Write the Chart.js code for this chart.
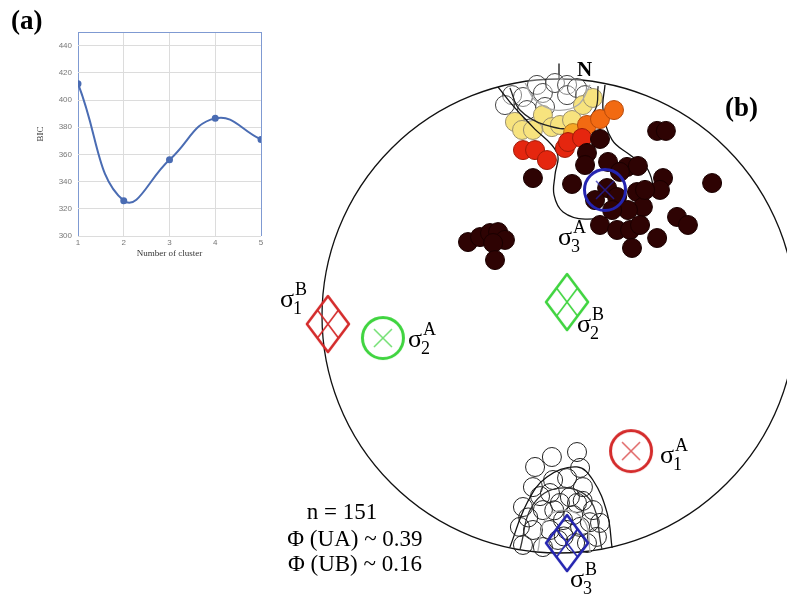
<!DOCTYPE html>
<html>
<head>
<meta charset="utf-8">
<script src="https://cdn.jsdelivr.net/npm/chart.js@4.4.1/dist/chart.umd.min.js"></script>
<style>
  html, body { margin: 0; padding: 0; background: #fff; }
  #wrap { position: relative; width: 787px; height: 596px; overflow: hidden; }
  #boxA { position: absolute; left: 0; top: 0; width: 270px; height: 262px; }
  #boxB { position: absolute; left: 262px; top: 0; width: 525px; height: 596px; }
</style>
</head>
<body>
<div id="wrap">
  <div id="boxB"><canvas id="graficoB"></canvas></div>
  <div id="boxA"><canvas id="graficoA"></canvas></div>
</div>
<script>
// ==== (a) BIC vs number of clusters ====
const clusters = [1, 2, 3, 4, 5];
const bicValues = [412, 326, 356, 386.5, 371];
const bicTicks = [300, 320, 340, 360, 380, 400, 420, 440];

// ==== (b) stereonet poles, unit circle coords (x = east, y = north) ====
const darkPoles = [
  [0.414, 0.781], [0.451, 0.781], [0.173, 0.747], [0.118, 0.688], [0.110, 0.637],
  [0.207, 0.650], [0.287, 0.629], [0.333, 0.633], [-0.110, 0.582], [0.055, 0.557],
  [0.203, 0.540], [0.245, 0.502], [0.329, 0.523], [0.439, 0.582], [0.426, 0.532],
  [0.646, 0.561], [0.354, 0.460], [0.291, 0.447], [0.173, 0.384], [0.245, 0.363],
  [0.300, 0.363], [0.308, 0.287], [0.414, 0.329], [0.498, 0.418], [0.544, 0.384],
  [-0.384, 0.312], [-0.333, 0.333], [-0.291, 0.350], [-0.257, 0.354], [-0.228, 0.321],
  [-0.278, 0.308], [-0.270, 0.236], [0.363, 0.532], [0.224, 0.447], [0.342, 0.384],
  [0.257, 0.608], [0.152, 0.489]
];
const redPoles = [[-0.152, 0.700], [-0.101, 0.700], [-0.051, 0.658], [0.025, 0.709], [0.038, 0.734], [0.097, 0.751]];
const orangePoles = [[0.118, 0.806], [0.173, 0.831], [0.232, 0.869]];
const amberPoles = [[0.059, 0.772]];
const yellowPoles = [
  [-0.186, 0.819], [-0.156, 0.785], [-0.110, 0.785], [-0.068, 0.848], [-0.030, 0.797],
  [0.004, 0.806], [0.055, 0.827], [0.101, 0.890], [0.143, 0.920]
];
const openPolesN = [
  [-0.198, 0.932], [-0.152, 0.924], [-0.093, 0.975], [-0.068, 0.941], [-0.017, 0.983],
  [0.034, 0.975], [0.034, 0.932], [0.076, 0.962], [-0.135, 0.869], [-0.228, 0.890],
  [-0.059, 0.882], [0.110, 0.932]
];
const openPolesS = [
  [-0.101, -0.637], [-0.030, -0.595], [0.076, -0.574], [-0.110, -0.722], [-0.025, -0.692],
  [0.034, -0.684], [0.089, -0.641], [0.101, -0.722], [-0.152, -0.806], [-0.068, -0.819],
  [0.004, -0.789], [0.076, -0.789], [0.143, -0.819], [0.173, -0.873], [-0.165, -0.890],
  [-0.110, -0.903], [-0.038, -0.903], [0.034, -0.903], [0.089, -0.890], [0.160, -0.932],
  [-0.152, -0.966], [-0.068, -0.975], [-0.004, -0.945], [0.068, -0.958], [0.118, -0.958],
  [0.017, -0.861], [0.046, -0.764], [-0.038, -0.747], [-0.130, -0.850], [0.060, -0.840],
  [0.130, -0.870], [-0.020, -0.820], [0.100, -0.780], [-0.080, -0.760], [0.020, -0.930]
];

// density contours
const contourNOuter = [
  [-0.257, 0.966], [-0.186, 0.878], [-0.110, 0.797], [-0.008, 0.688], [-0.017, 0.595],
  [-0.021, 0.511], [0.017, 0.439], [0.110, 0.409], [0.257, 0.435], [0.384, 0.511],
  [0.376, 0.616], [0.300, 0.679], [0.224, 0.743], [0.186, 0.869], [0.194, 0.975]
];
const contourNMid = [[-0.207, 0.962], [-0.165, 0.869], [-0.059, 0.806], [0.068, 0.797], [0.152, 0.869], [0.165, 0.970]];
const contourNInner = [[-0.143, 0.983], [-0.101, 0.911], [-0.017, 0.869], [0.080, 0.890], [0.131, 0.975]];
const contourSOuter = [[-0.207, -0.975], [-0.135, -0.789], [-0.051, -0.679], [0.076, -0.637], [0.143, -0.692], [0.203, -0.831], [0.224, -0.979]];
const contourSMid = [[-0.165, -0.987], [-0.110, -0.797], [0.004, -0.726], [0.131, -0.776], [0.181, -0.983]];
const contourSInner = [[-0.089, -0.992], [-0.059, -0.861], [0.025, -0.819], [0.110, -0.869], [0.131, -0.996]];

// principal stress axes (A = circles, B = diamonds)
const sigmaA = [[0.304, -0.570], [-0.743, -0.093], [0.194, 0.532]];   // sigma1, sigma2, sigma3
const sigmaB = [[-0.975, -0.034], [0.034, 0.059], [0.034, -0.958]];
const sigmaColors = ['#d42b2b', '#3fd43f', '#2424b0'];

// label anchors (left of sigma glyph, on its baseline)
const sigmaLabels = [
  { sub: '1', sup: 'A', at: [0.426, -0.620] },
  { sub: '2', sup: 'A', at: [-0.637, -0.131] },
  { sub: '3', sup: 'A', at: [-0.004, 0.300] },
  { sub: '1', sup: 'B', at: [-1.177, 0.038] },
  { sub: '2', sup: 'B', at: [0.076, -0.068] },
  { sub: '3', sup: 'B', at: [0.046, -1.143] }
];
const statLines = ['n = 151', 'Φ (UA) ~ 0.39', 'Φ (UB) ~ 0.16'];
const statAt = [[-0.916, -0.857], [-0.861, -0.970], [-0.861, -1.076]];

const SERIF = '"Liberation Serif", "DejaVu Serif", serif';

// ---------------------------------------------------------------
// Panel (a)
// ---------------------------------------------------------------
const AZUL = '#4a6cb3';
new Chart(document.getElementById('graficoA'), {
  type: 'line',
  data: {
    datasets: [{
      data: clusters.map((c, i) => ({ x: c, y: bicValues[i] })),
      borderColor: AZUL,
      backgroundColor: AZUL,
      borderWidth: 2,
      pointRadius: 2.5,
      tension: 0.45
    }]
  },
  options: {
    responsive: true,
    maintainAspectRatio: false,
    animation: false,
    layout: { autoPadding: false, padding: { left: 30, right: 9, top: 32, bottom: 0 } },
    plugins: { legend: { display: false }, tooltip: { enabled: false } },
    scales: {
      x: {
        type: 'linear', min: 1, max: 5,
        afterBuildTicks: s => { s.ticks = clusters.map(v => ({ value: v })); },
        afterFit: s => { s.height = 26; },
        ticks: { color: '#777', font: { size: 8 }, padding: 2 },
        grid: { color: c => (c.tick && (c.tick.value === 5 || c.tick.value === 1)) ? '#7f9ad2' : '#dcdcdc', drawTicks: false },
        border: { display: false },
        title: { display: true, text: 'Number of cluster', color: '#333', font: { family: SERIF, size: 9 }, padding: { top: 0, bottom: 3 } }
      },
      y: {
        min: 300, max: 450,
        afterBuildTicks: s => { s.ticks = bicTicks.concat([450]).map(v => ({ value: v })); },
        afterFit: s => { s.width = 48; },
        ticks: { color: '#777', font: { size: 8 }, padding: 6, callback: v => (v === 450 ? '' : v) },
        grid: { color: c => (c.tick && c.tick.value === 450) ? '#7f9ad2' : '#dcdcdc', drawTicks: false },
        border: { display: false },
        title: { display: true, text: 'BIC', color: '#333', font: { family: SERIF, size: 9 }, padding: 5 }
      }
    }
  },
  plugins: [{
    id: 'etiquetaA',
    afterDraw(chart) {
      const ctx = chart.ctx;
      ctx.save();
      ctx.fillStyle = '#000';
      ctx.font = 'bold 27px ' + SERIF;
      ctx.textBaseline = 'alphabetic';
      ctx.fillText('(a)', 11, 29);
      ctx.restore();
    }
  }]
});

// ---------------------------------------------------------------
// Panel (b) - stereonet
// ---------------------------------------------------------------
// marker icons drawn once, placed by Chart.js as pointStyle images
function iconoCirculo(color) {
  const c = document.createElement('canvas');
  c.width = 50; c.height = 50;
  const g = c.getContext('2d');
  g.strokeStyle = color;
  g.lineWidth = 3;
  g.beginPath(); g.arc(25, 25, 20.5, 0, Math.PI * 2); g.stroke();
  g.globalAlpha = 0.75;
  g.lineWidth = 1.5;
  g.beginPath();
  g.moveTo(16, 16); g.lineTo(34, 34);
  g.moveTo(34, 16); g.lineTo(16, 34);
  g.stroke();
  return c;
}
function iconoRombo(color) {
  const c = document.createElement('canvas');
  c.width = 48; c.height = 62;
  const g = c.getContext('2d');
  g.strokeStyle = color;
  g.lineJoin = 'round';
  g.lineWidth = 2.6;
  g.beginPath();
  g.moveTo(24, 3); g.lineTo(45, 31); g.lineTo(24, 59); g.lineTo(3, 31); g.closePath();
  g.stroke();
  g.lineWidth = 1.6;
  g.beginPath();
  g.moveTo(13.5, 17); g.lineTo(34.5, 45);
  g.moveTo(34.5, 17); g.lineTo(13.5, 45);
  g.stroke();
  return c;
}

const pts = arr => arr.map(p => ({ x: p[0], y: p[1] }));

function poleSet(arr, fill, edge, order) {
  return {
    data: pts(arr), order: order,
    pointRadius: 9.5, pointBackgroundColor: fill, pointBorderColor: edge, pointBorderWidth: 1,
    showLine: false, clip: false
  };
}
function contourSet(arr, color, order) {
  return {
    data: pts(arr), order: order, showLine: true, tension: 0.4,
    borderColor: color, borderWidth: 1.3, pointRadius: 0, fill: false, clip: false
  };
}

// view: canvas pixel of net centre and radius
const NET = { cx: 297, cy: 316, r: 237, w: 525, h: 596 };

const sigmaDatasets = [];
sigmaA.forEach((p, i) => sigmaDatasets.push({
  data: pts([p]), order: 0, pointStyle: iconoCirculo(sigmaColors[i]), pointRadius: 20, clip: false
}));
sigmaB.forEach((p, i) => sigmaDatasets.push({
  data: pts([p]), order: 0, pointStyle: iconoRombo(sigmaColors[i]), pointRadius: 20, clip: false
}));

new Chart(document.getElementById('graficoB'), {
  type: 'scatter',
  data: {
    datasets: sigmaDatasets.concat([
      poleSet(darkPoles, '#2e0303', '#1a0000', 1),
      poleSet(redPoles, '#e5260f', '#a01a08', 2),
      poleSet(orangePoles, '#f26a12', '#b84a0a', 2),
      poleSet(amberPoles, '#f5a524', '#b07a20', 3),
      contourSet(contourNOuter, '#111', 4),
      contourSet(contourNMid, '#222', 4),
      contourSet(contourNInner, '#aaa', 4),
      contourSet(contourSOuter, '#111', 4),
      contourSet(contourSMid, '#333', 4),
      contourSet(contourSInner, '#aaa', 4),
      poleSet(yellowPoles, '#f7e37e', '#9a9070', 5),
      poleSet(openPolesN, 'rgba(255,255,255,0.35)', '#444', 6),
      poleSet(openPolesS, 'rgba(0,0,0,0)', '#222', 6)
    ])
  },
  options: {
    responsive: true,
    maintainAspectRatio: false,
    animation: false,
    layout: { autoPadding: false, padding: 0 },
    plugins: { legend: { display: false }, tooltip: { enabled: false } },
    scales: {
      x: { display: false, min: -NET.cx / NET.r, max: (NET.w - NET.cx) / NET.r },
      y: { display: false, min: -(NET.h - NET.cy) / NET.r, max: NET.cy / NET.r }
    }
  },
  plugins: [{
    id: 'red',
    beforeDatasetsDraw(chart) {
      const { ctx, scales: { x, y } } = chart;
      const cx = x.getPixelForValue(0), cy = y.getPixelForValue(0);
      const r = x.getPixelForValue(1) - cx;
      ctx.save();
      ctx.strokeStyle = '#111';
      ctx.lineWidth = 1.3;
      ctx.beginPath(); ctx.arc(cx, cy, r, 0, Math.PI * 2); ctx.stroke();
      ctx.beginPath();
      ctx.moveTo(cx, y.getPixelForValue(1));
      ctx.lineTo(cx, y.getPixelForValue(1.065));
      ctx.stroke();
      ctx.restore();
    },
    afterDatasetsDraw(chart) {
      const { ctx, scales: { x, y } } = chart;
      ctx.save();
      ctx.fillStyle = '#000';
      ctx.textBaseline = 'alphabetic';
      // sigma labels
      sigmaLabels.forEach(l => {
        const px = x.getPixelForValue(l.at[0]), py = y.getPixelForValue(l.at[1]);
        ctx.font = '26px ' + SERIF;
        ctx.textAlign = 'left';
        ctx.fillText('σ', px, py);
        const w = ctx.measureText('σ').width;
        ctx.font = '18px ' + SERIF;
        ctx.fillText(l.sub, px + w - 1, py + 7);
        ctx.fillText(l.sup, px + w + 1, py - 12);
      });
      // statistics
      ctx.font = '23px ' + SERIF;
      ctx.textAlign = 'center';
      statLines.forEach((t, i) => {
        ctx.fillText(t, x.getPixelForValue(statAt[i][0]), y.getPixelForValue(statAt[i][1]));
      });
      // north mark and panel letter
      ctx.textAlign = 'left';
      ctx.font = 'bold 21px ' + SERIF;
      ctx.fillText('N', x.getPixelForValue(0.076), y.getPixelForValue(1.013));
      ctx.font = 'bold 27px ' + SERIF;
      ctx.fillText('(b)', x.getPixelForValue(0.700), y.getPixelForValue(0.844));
      ctx.restore();
    }
  }]
});
</script>
</body>
</html>
